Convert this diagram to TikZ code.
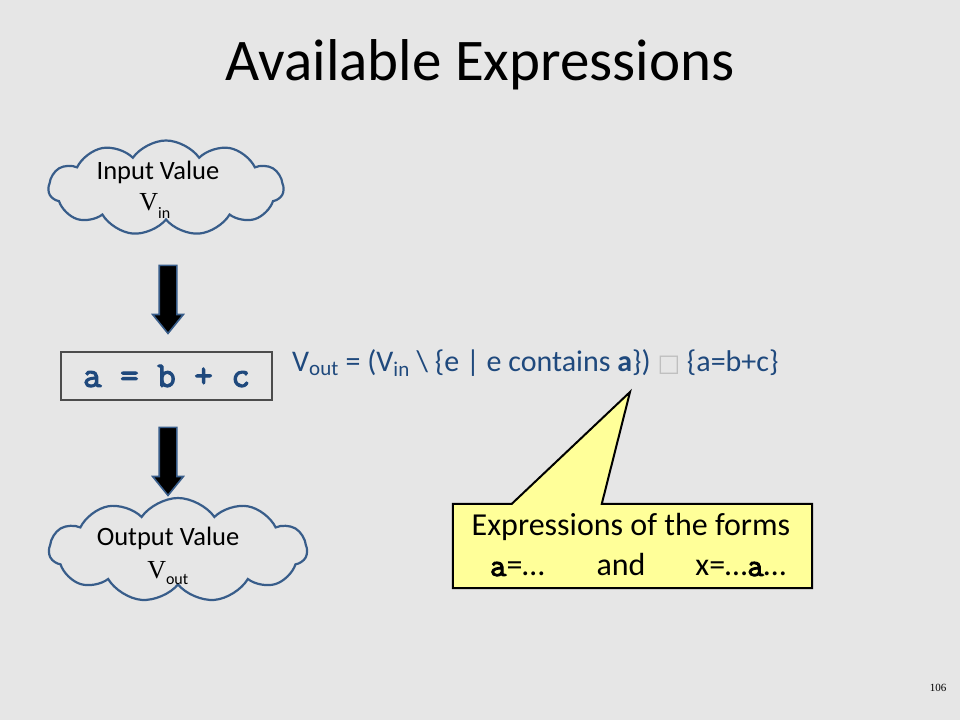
\documentclass[tikz,border=0pt]{standalone}
\usepackage{fontspec}
\setmainfont{Carlito}
\newfontfamily\codefont[FakeBold=3]{Latin Modern Mono}
\newfontfamily\vfont{Liberation Serif}
\newfontfamily\symfont{DejaVu Sans}
\usetikzlibrary{shapes.symbols,shapes.arrows,calc}
\definecolor{slidebg}{RGB}{230,230,230}
\definecolor{textblue}{RGB}{31,73,125}
\definecolor{edgeblue}{RGB}{56,93,138}
\definecolor{noteyellow}{RGB}{255,255,153}
\tikzset{
	valuecloud/.style={cloud, cloud puffs=11, cloud puff arc=110, cloud ignores aspect, draw=edgeblue, line width=2.2pt, inner sep=0pt},
	flowarrow/.style={single arrow, draw=edgeblue, fill=black, line width=1.6pt, shape border rotate=270, minimum height=68pt, minimum width=0pt, inner sep=8pt, single arrow head extend=6.5pt, single arrow tip angle=78},
	cloudtext/.style={font=\fontsize{26.5}{29}\selectfont},
	calloutline/.style={font=\fontsize{32}{35}\selectfont}
}
\begin{document}
\begin{tikzpicture}[x=1pt, y=-1pt]
	\fill[slidebg] (0,0) rectangle (960,720);
	\node (title) at (480,65) {\fontsize{59}{63}\selectfont Available Expressions};
	% input and output values
	\node (input) [valuecloud, minimum width=235pt, minimum height=95pt] at (166,188) {};
	\node (intext) [cloudtext] at (158,172) {Input Value};
	\node (invar) at (155,206) {{\vfont\fontsize{26}{28}\selectfont V}\textsubscript{\fontsize{16}{17}\selectfont in}};
	\node (output) [valuecloud, minimum width=258pt, minimum height=104pt] at (178,550) {};
	\node (outtext) [cloudtext] at (168,538) {Output Value};
	\node (outvar) at (168,573) {{\vfont\fontsize{26}{28}\selectfont V}\textsubscript{\fontsize{16}{17}\selectfont out}};
	% the statement
	\node (stmt) [draw=black!70, line width=1.2pt, minimum width=211pt, minimum height=48pt] at (166.5,376) {\codefont\fontsize{36}{38}\selectfont\color{textblue}a = b + c};
	\node (arrA) [flowarrow] at (168,294) {};
	\node (arrB) [flowarrow] at (168,456) {};
	% transfer function
	\node (transfer) [anchor=west, text=textblue, inner sep=0pt] at (292,363) {\fontsize{30}{32}\selectfont V\textsubscript{out} = (V\textsubscript{in} \textbackslash\ \{e | e contains \textbf{a}\}) {\symfont\color{black!25}\fontsize{24}{26}\selectfont □} \{a=b+c\}};
	% callout
	\path node (formsbox) [minimum width=359pt, minimum height=84pt] at (632.5,546) {};
	\coordinate (tip) at (630,392);
	\filldraw[fill=noteyellow, draw=black, line width=2pt, line join=miter] (formsbox.north west) -- ($(formsbox.north west)+(59,0)$) -- (tip) -- ($(formsbox.north west)+(149,0)$) -- (formsbox.north east) -- (formsbox.south east) -- (formsbox.south west) -- cycle;
	\node (formsA) [calloutline] at (631,527) {Expressions of the forms};
	\node (formsB) [calloutline] at (638,565) {{\codefont a}=\dots\hspace{52pt}and\hspace{50pt}x=\dots{\codefont a}\dots};
	\node (pagenum) at (938,688) {\vfont\fontsize{11}{12}\selectfont 106};
\end{tikzpicture}
\end{document}
